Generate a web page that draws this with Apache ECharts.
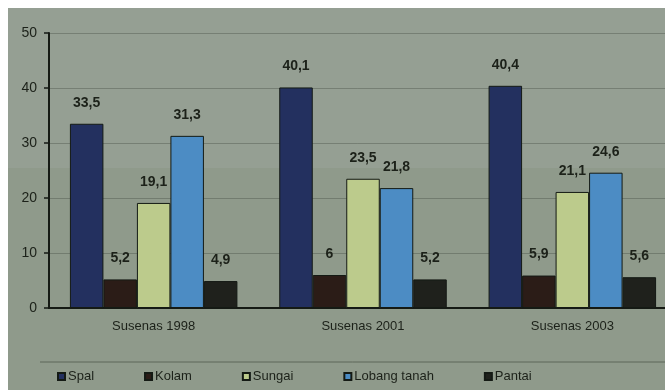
<!DOCTYPE html>
<html><head><meta charset="utf-8">
<script src="https://cdn.jsdelivr.net/npm/echarts@6/dist/echarts.min.js"></script>
<style>html,body{margin:0;padding:0;background:#fff}#c{width:665px;height:390px}</style>
</head><body><div id="c"></div>
<script>
const categories = ['Susenas 1998', 'Susenas 2001', 'Susenas 2003'];
const seriesNames = ['Spal', 'Kolam', 'Sungai', 'Lobang tanah', 'Pantai'];
const spal = [33.5, 40.1, 40.4];
const kolam = [5.2, 6, 5.9];
const sungai = [19.1, 23.5, 21.1];
const lobangTanah = [31.3, 21.8, 24.6];
const pantai = [4.9, 5.2, 5.6];
const yTicks = [0, 10, 20, 30, 40, 50];

const values = [spal, kolam, sungai, lobangTanah, pantai];
const colors = ['#23305f', '#2b1c17', '#bccb8c', '#4c8cc4', '#1f211c'];

const chart = echarts.init(document.getElementById('c'));
const fmt = p => String(p.value).replace('.', ',');
chart.setOption({
  backgroundColor: '#ffffff',
  animation: false,
  graphic: [
    {type: 'rect', left: 8, top: 8, shape: {width: 657, height: 382}, style: {fill: '#8f9a8b'}, z: -10},
    {type: 'rect', left: 8, top: 8, shape: {width: 657, height: 160}, style: {fill: '#9aa39a', opacity: 0.6}, z: -9},
    {type: 'line', shape: {x1: 40, y1: 362, x2: 665, y2: 362}, style: {stroke: '#5c6658', lineWidth: 1}, z: -5}
  ],
  grid: {left: 49, width: 628, top: 33, bottom: 82, containLabel: false, outerBoundsMode: 'none'},
  legend: {
    bottom: 2, left: 52, itemWidth: 7, itemHeight: 7, itemGap: 50, icon: 'rect',
    textStyle: {fontSize: 13, color: '#1c2119', fontFamily: 'Liberation Sans', padding: [0, 0, 0, -2]},
    data: seriesNames
  },
  xAxis: {
    type: 'category', data: categories,
    axisLine: {lineStyle: {color: '#151a14', width: 2}},
    axisTick: {show: false},
    axisLabel: {fontSize: 13, color: '#1c2119', margin: 12, fontFamily: 'Liberation Sans'}
  },
  yAxis: {
    type: 'value', min: yTicks[0], max: yTicks[yTicks.length - 1], interval: 10,
    axisLine: {show: true, lineStyle: {color: '#151a14', width: 2}},
    axisTick: {show: true, length: 5, lineStyle: {color: '#151a14', width: 1.5}},
    axisLabel: {fontSize: 14, color: '#1c2119', margin: 12, fontFamily: 'Liberation Sans'},
    splitLine: {lineStyle: {color: 'rgba(60,70,60,0.35)', width: 1}}
  },
  series: seriesNames.map((n, i) => ({
    name: n, type: 'bar', data: values[i],
    barWidth: 33.5, barGap: '0%',
    itemStyle: {color: colors[i], borderColor: '#141a14', borderWidth: 1},
    label: {show: true, position: 'top', distance: 14, formatter: fmt, fontSize: 14, fontWeight: 'bold',
      color: '#1c2119', fontFamily: 'Liberation Sans'}
  }))
});
</script></body></html>
